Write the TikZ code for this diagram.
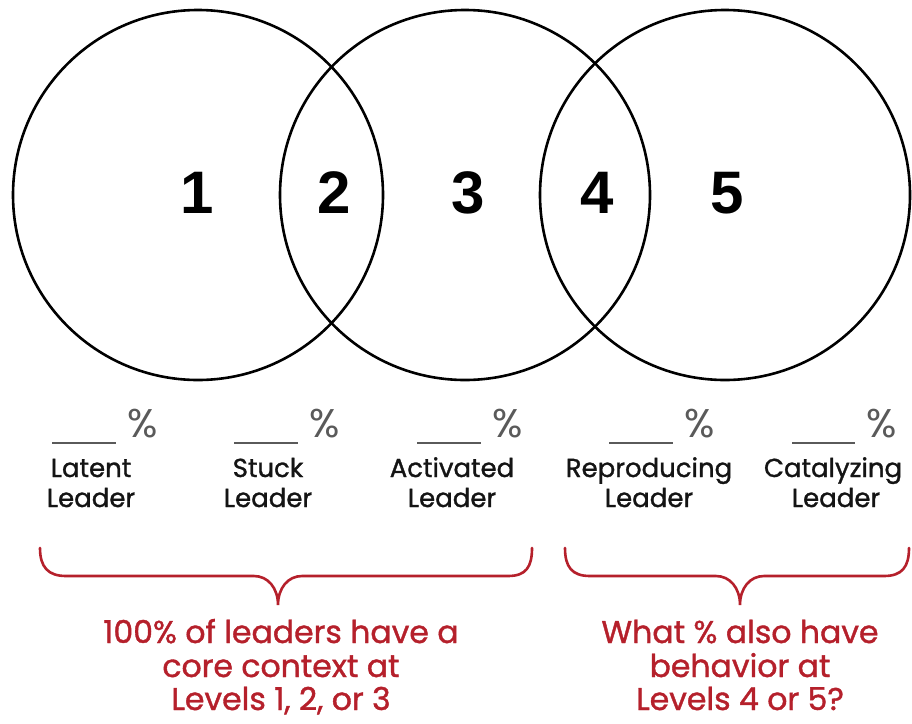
\documentclass[tikz,border=0pt]{standalone}
\usepackage{fontspec}
\setmainfont{Poppins}
\newfontfamily\numfont{Liberation Sans}
\newfontfamily\medfont[FakeBold=1.2]{Poppins}
\definecolor{bracered}{RGB}{181,32,43}
\definecolor{pctgray}{RGB}{90,90,90}
\definecolor{labelink}{RGB}{20,20,20}
\begin{document}
\begin{tikzpicture}[x=1pt,y=-1pt,
  ring/.style={draw=black,line width=2.6pt},
  num/.style={font=\numfont\bfseries\fontsize{60}{60}\selectfont,anchor=base,inner sep=0pt},
  pct/.style={font=\fontsize{40}{40}\selectfont,text=pctgray,anchor=base,inner sep=0pt},
  blank/.style={draw=pctgray,line width=1.8pt},
  lab/.style={font=\medfont\fontsize{26}{26}\selectfont,text=labelink,anchor=base,inner sep=0pt},
  brace/.style={draw=bracered,line width=2.6pt,line cap=round},
  note/.style={font=\medfont\fontsize{31.5}{31.5}\selectfont,text=bracered,anchor=base,inner sep=0pt}]
\useasboundingbox (0,0) rectangle (912,723);
% circles
\draw[ring] (198,195) circle[radius=185];
\draw[ring] (465,195) circle[radius=185];
\draw[ring] (725,195) circle[radius=185];
% numbers
\node[num] (n1) at (197,213) {1};
\node[num] (n2) at (334,213) {2};
\node[num] (n3) at (468,213) {3};
\node[num] (n4) at (597,213) {4};
\node[num] (n5) at (727,213) {5};
% blanks and percents
\coordinate (b1a) at (52,443); \coordinate (b1b) at (116,443);
\coordinate (b2a) at (234,443); \coordinate (b2b) at (298,443);
\coordinate (b3a) at (417,443); \coordinate (b3b) at (481,443);
\coordinate (b4a) at (609,443); \coordinate (b4b) at (673,443);
\coordinate (b5a) at (792,443); \coordinate (b5b) at (855,443);
\draw[blank] (b1a) -- (b1b);
\draw[blank] (b2a) -- (b2b);
\draw[blank] (b3a) -- (b3b);
\draw[blank] (b4a) -- (b4b);
\draw[blank] (b5a) -- (b5b);
\node[pct] (p1) at (143,437) {\%};
\node[pct] (p2) at (325,437) {\%};
\node[pct] (p3) at (508,437) {\%};
\node[pct] (p4) at (700,437) {\%};
\node[pct] (p5) at (882,437) {\%};
% labels
\node[lab] (l1a) at (91,477) {Latent};
\node[lab] (l1b) at (91,507) {Leader};
\node[lab] (l2a) at (268,477) {Stuck};
\node[lab] (l2b) at (268,507) {Leader};
\node[lab] (l3a) at (452,477) {Activated};
\node[lab] (l3b) at (452,507) {Leader};
\node[lab] (l4a) at (649,477) {Reproducing};
\node[lab] (l4b) at (649,507) {Leader};
\node[lab] (l5a) at (833,477) {Catalyzing};
\node[lab] (l5b) at (836,507) {Leader};
% braces
\draw[brace] (40,548) .. controls (40,567) and (48,576) .. (66,576)
  -- (254,576) .. controls (268,576) and (278,588) .. (278,605)
  .. controls (278,588) and (288,576) .. (302,576)
  -- (508,576) .. controls (526,576) and (532,567) .. (532,548);
\draw[brace] (565,548) .. controls (565,567) and (572,576) .. (590,576)
  -- (716,576) .. controls (730,576) and (740,588) .. (740,605)
  .. controls (740,588) and (750,576) .. (764,576)
  -- (884,576) .. controls (902,576) and (909,567) .. (909,548);
% notes
\node[note] (t1) at (281,643) {100\% of leaders have a};
\node[note] (t2) at (281,677) {core context at};
\node[note] (t3) at (281,710) {Levels 1, 2, or 3};
\node[note] (u1) at (740,643) {What \% also have};
\node[note] (u2) at (740,677) {behavior at};
\node[note] (u3) at (740,710) {Levels 4 or 5?};
\end{tikzpicture}
\end{document}
